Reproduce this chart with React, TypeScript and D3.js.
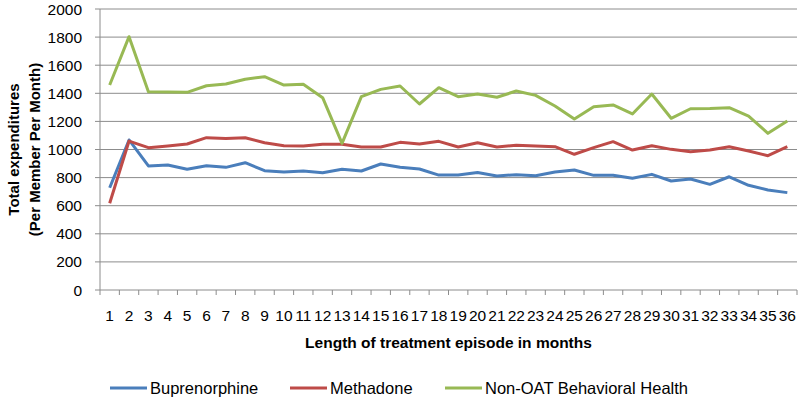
import React from "react";
import * as d3 from "d3";

const months = Array.from({ length: 36 }, (_, i) => String(i + 1));
const yTicks = [0, 200, 400, 600, 800, 1000, 1200, 1400, 1600, 1800, 2000];

const buprenorphine = [728, 1068, 883, 890, 859, 885, 873, 906, 849, 840, 847, 835, 859, 847, 897, 873, 861, 818, 818, 837, 811, 821, 813, 840, 854, 816, 816, 795, 823, 776, 790, 752, 806, 745, 712, 693];
const methadone = [617, 1060, 1013, 1025, 1039, 1084, 1079, 1084, 1048, 1027, 1025, 1037, 1037, 1018, 1018, 1051, 1039, 1058, 1018, 1048, 1018, 1030, 1025, 1020, 966, 1013, 1056, 996, 1027, 1001, 984, 996, 1020, 989, 956, 1020];
const nonOat = [1459, 1803, 1411, 1410, 1407, 1454, 1466, 1500, 1518, 1459, 1464, 1369, 1044, 1376, 1428, 1452, 1324, 1440, 1376, 1395, 1372, 1416, 1385, 1310, 1217, 1305, 1317, 1253, 1395, 1222, 1290, 1292, 1298, 1238, 1115, 1203];

const seriesNames = ["Buprenorphine", "Methadone", "Non-OAT Behavioral Health"];
const seriesColors = ["#4a7ebb", "#be4b48", "#98b954"];
const seriesData = [buprenorphine, methadone, nonOat];

export default function App() {
  const W = 800, H = 401;
  const left = 100, right = 797, top = 9, bottom = 290;
  const x = d3.scaleBand<string>().domain(months).range([left, right]);
  const y = d3.scaleLinear().domain([0, 2000]).range([bottom, top]);
  const font = "'Liberation Sans', Arial, sans-serif";
  const line = d3
    .line<number>()
    .x((_, i) => (x(months[i]) as number) + x.bandwidth() / 2)
    .y((d) => y(d));
  const boundaries = d3.range(months.length + 1).map((i) => left + i * x.bandwidth());
  const legendX = [110, 290, 445];
  const legendY = 388;
  return (
    <svg width={W} height={H} style={{ position: "absolute", left: 0, top: 0, background: "#fff" }} fontFamily={font}>
      {yTicks.map((t) => (
        <g key={t}>
          {t > 0 && <line x1={left} x2={right} y1={y(t)} y2={y(t)} stroke="#8c8c8c" strokeWidth={1} />}
          <line x1={left - 5} x2={left} y1={y(t)} y2={y(t)} stroke="#8c8c8c" />
          <text x={82} y={y(t)} dy="0.36em" textAnchor="end" fontSize={15.5} fill="#000">
            {t}
          </text>
        </g>
      ))}
      <line x1={left} x2={left} y1={top} y2={bottom} stroke="#8c8c8c" />
      <line x1={left} x2={right} y1={bottom} y2={bottom} stroke="#8c8c8c" />
      {boundaries.map((b, i) => (
        <line key={i} x1={b} x2={b} y1={bottom} y2={bottom + 5} stroke="#8c8c8c" />
      ))}
      {months.map((m) => (
        <text key={m} x={(x(m) as number) + x.bandwidth() / 2} y={320.5} textAnchor="middle" fontSize={15.5} fill="#000">
          {m}
        </text>
      ))}
      {seriesData.map((d, i) => (
        <path key={i} d={line(d) as string} fill="none" stroke={seriesColors[i]} strokeWidth={3} strokeLinejoin="round" />
      ))}
      <text x={448.5} y={348} textAnchor="middle" fontSize={15.5} fontWeight="bold" fill="#000">
        Length of treatment episode in months
      </text>
      <g transform={`translate(19, ${(top + bottom) / 2}) rotate(-90)`}>
        <text x={0} y={0} textAnchor="middle" fontSize={15} fontWeight="bold" fill="#000">
          Total expenditures
        </text>
        <text x={0} y={21} textAnchor="middle" fontSize={15} fontWeight="bold" fill="#000">
          (Per Member Per Month)
        </text>
      </g>
      {seriesNames.map((n, i) => (
        <g key={n}>
          <line x1={legendX[i]} x2={legendX[i] + 37} y1={legendY} y2={legendY} stroke={seriesColors[i]} strokeWidth={3} />
          <text x={legendX[i] + 40} y={legendY} dy="0.36em" fontSize={16.5} fill="#000">
            {n}
          </text>
        </g>
      ))}
    </svg>
  );
}
